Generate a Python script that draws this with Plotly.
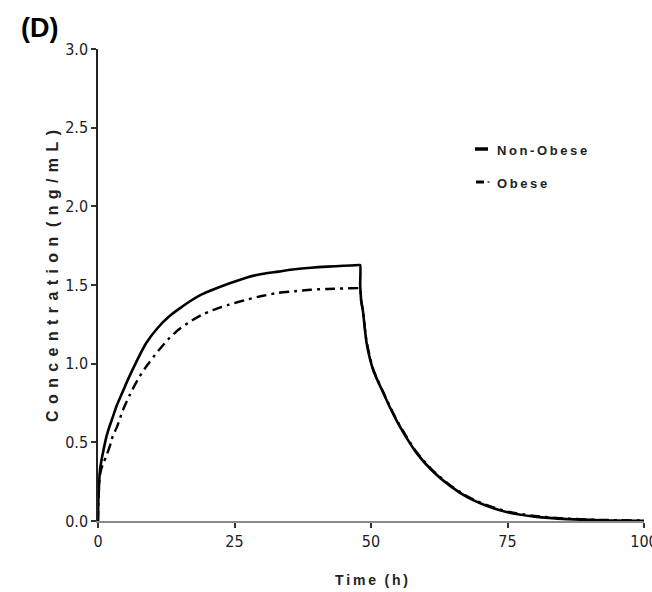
import plotly.graph_objects as go

# ---- data ----
t_nonobese = [0, 0.05, 0.15, 0.3, 0.6, 1.0, 1.5, 2.0, 2.7, 3.5, 4.5, 5.5, 7, 8.8, 11, 13, 14.9,
              17, 19, 21, 24, 27, 30, 33, 36, 39, 42, 45, 47.8, 48,
              48.02, 48.1, 48.2, 48.5, 49.2, 50.4, 52.3, 53.5, 55.3, 58.4, 61.5, 64.6, 67.7, 70.9,
              75, 80, 86, 92, 100]
c_nonobese = [0, 0.12, 0.20, 0.30, 0.38, 0.45, 0.53, 0.59, 0.66, 0.74, 0.82, 0.90, 1.01, 1.13, 1.23, 1.30, 1.35,
              1.40, 1.44, 1.47, 1.51, 1.545, 1.57, 1.585, 1.60, 1.61, 1.617, 1.622, 1.627, 1.627,
              1.50, 1.45, 1.40, 1.34, 1.13, 0.96, 0.81, 0.72, 0.60, 0.43, 0.31, 0.22, 0.15, 0.10,
              0.055, 0.028, 0.012, 0.005, 0.002]

t_obese = [0, 0.1, 0.3, 0.6, 1.0, 1.5, 2.4, 2.7, 3.5, 4.5, 5.8, 7.3, 8.8, 11, 13, 14.9,
           17, 19, 21, 24, 27, 30, 33, 36, 39, 42, 45, 47.8, 48,
           48.1, 48.2, 48.5, 49.2, 50.4, 52.3, 53.5, 55.3, 58.4, 61.5, 64.6, 67.7, 70.9,
           75, 80, 86, 92, 100]
c_obese = [0, 0.15, 0.28, 0.33, 0.37, 0.41, 0.50, 0.54, 0.60, 0.70, 0.80, 0.90, 0.98, 1.08, 1.16, 1.22,
           1.27, 1.31, 1.34, 1.375, 1.405, 1.43, 1.45, 1.46, 1.47, 1.475, 1.478, 1.48, 1.48,
           1.45, 1.40, 1.34, 1.14, 0.965, 0.815, 0.725, 0.605, 0.435, 0.315, 0.225, 0.155, 0.105,
           0.06, 0.032, 0.015, 0.007, 0.003]

x_ticks = [0, 25, 50, 75, 100]
y_ticks = [0.0, 0.5, 1.0, 1.5, 2.0, 2.5, 3.0]
series_names = ["Non-Obese", "Obese"]

# ---- layout geometry ----
W, H = 652, 592
L, R, T, B = 98, 8, 49, 71
pw, ph = W - L - R, H - T - B

def px2x(px):
    return (px - L) / pw

def py2y(py):
    return (H - B - py) / ph

def spaced(s, sep="\u2009", wordgap="\u2009\u2009\u2009"):
    words = s.split(" ")
    return wordgap.join(sep.join(w) for w in words)

NARROW = "Liberation Sans Narrow, Arial Narrow, DejaVu Sans Condensed, Roboto Condensed, Liberation Sans, sans-serif"
SANS = "Liberation Sans, Arial, sans-serif"

fig = go.Figure()
fig.add_trace(go.Scatter(x=t_nonobese, y=c_nonobese, mode="lines", name=series_names[0],
                         line=dict(color="black", width=2.6, shape="spline", smoothing=0.7),
                         cliponaxis=False, showlegend=False))
fig.add_trace(go.Scatter(x=t_obese, y=c_obese, mode="lines", name=series_names[1],
                         line=dict(color="black", width=2.4, dash="10px,5px,3px,5px",
                                   shape="spline", smoothing=0.7),
                         cliponaxis=False, showlegend=False))

fig.update_layout(
    width=W, height=H,
    margin=dict(l=L, r=R, t=T, b=B, pad=0, autoexpand=False),
    paper_bgcolor="white", plot_bgcolor="white",
    xaxis=dict(range=[0, 100], tickvals=x_ticks, ticktext=[str(v) for v in x_ticks],
               showgrid=False, zeroline=False, showline=True, linecolor="#8a8a8a", linewidth=2,
               ticks="outside", ticklen=5, tickwidth=1.5, tickcolor="#333",
               ticklabeloverflow="allow", automargin=False,
               tickfont=dict(family=NARROW, size=16, color="#1c1c2a")),
    yaxis=dict(range=[0, 3], tickvals=y_ticks, ticktext=[f"{v:.1f}" for v in y_ticks],
               showgrid=False, zeroline=False, showline=True, linecolor="#222", linewidth=1.5,
               ticks="outside", ticklen=5, tickwidth=1.5, tickcolor="#333",
               ticklabeloverflow="allow", automargin=False,
               tickfont=dict(family=NARROW, size=16, color="#1c1c2a")),
)

annotations = [
    dict(text="<b>(D)</b>", x=px2x(39), y=py2y(28), font=dict(family=SANS, size=27, color="black")),
    dict(text="<b>" + spaced("Concentration (ng/mL)", "\u2009\u2009", "\u2009\u2009\u2009") + "</b>",
         x=px2x(52), y=py2y(276), textangle=-90, font=dict(family=SANS, size=16, color="#222")),
    dict(text="<b>" + spaced("Time (h)") + "</b>", x=px2x(371), y=py2y(580),
         font=dict(family=SANS, size=14, color="#222")),
    dict(text="<b>" + spaced(series_names[0]) + "</b>", x=px2x(495), y=py2y(150), xanchor="left",
         font=dict(family=SANS, size=13, color="#222")),
    dict(text="<b>" + spaced(series_names[1]) + "</b>", x=px2x(495), y=py2y(183), xanchor="left",
         font=dict(family=SANS, size=13, color="#222")),
]
for a in annotations:
    a.setdefault("xanchor", "center")
    a.update(xref="paper", yref="paper", showarrow=False, yanchor="middle")
fig.update_layout(annotations=annotations)

# legend samples
fig.add_shape(type="line", xref="paper", yref="paper", x0=px2x(475), x1=px2x(488),
              y0=py2y(149), y1=py2y(149), line=dict(color="black", width=3.5))
fig.add_shape(type="line", xref="paper", yref="paper", x0=px2x(476), x1=px2x(484),
              y0=py2y(182), y1=py2y(182), line=dict(color="black", width=3))
fig.add_shape(type="line", xref="paper", yref="paper", x0=px2x(487.5), x1=px2x(489.5),
              y0=py2y(182), y1=py2y(182), line=dict(color="#666", width=2))

fig.write_html("out.html")
